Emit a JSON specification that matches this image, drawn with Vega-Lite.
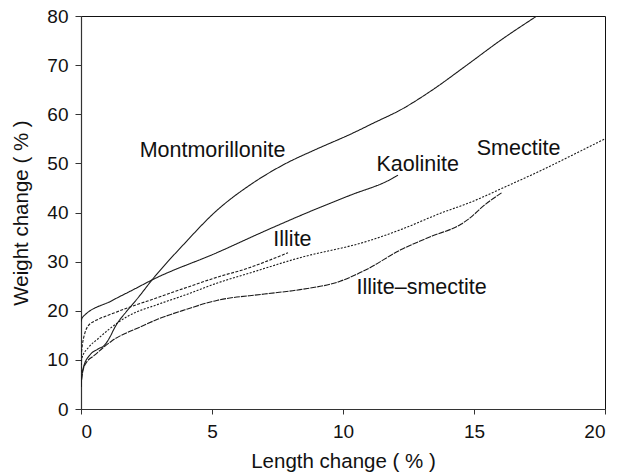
{
  "$schema": "https://vega.github.io/schema/vega-lite/v6.json",
  "width": 524,
  "height": 393,
  "autosize": "none",
  "padding": {"left": 81, "top": 16, "right": 13, "bottom": 65},
  "background": "white",
  "config": {
    "view": {"stroke": "#111", "strokeWidth": 1},
    "font": "Liberation Sans",
    "axis": {
      "grid": false,
      "domainColor": "#333",
      "domainWidth": 1.2,
      "tickColor": "#333",
      "tickSize": 6,
      "labelFont": "Liberation Sans",
      "labelFontSize": 19,
      "labelColor": "#111",
      "titleFont": "Liberation Sans",
      "titleFontSize": 20.5,
      "titleFontWeight": "normal",
      "titleColor": "#111"
    }
  },
  "datasets": {
    "curves": [
      {"m": "Montmorillonite", "x": 0, "y": 4.5},
      {"m": "Montmorillonite", "x": 0.02, "y": 6},
      {"m": "Montmorillonite", "x": 0.1, "y": 8.6},
      {"m": "Montmorillonite", "x": 0.34, "y": 11},
      {"m": "Montmorillonite", "x": 0.65, "y": 12.2},
      {"m": "Montmorillonite", "x": 0.9, "y": 13},
      {"m": "Montmorillonite", "x": 1.1, "y": 14.6},
      {"m": "Montmorillonite", "x": 1.28, "y": 16.5},
      {"m": "Montmorillonite", "x": 1.79, "y": 20.2},
      {"m": "Montmorillonite", "x": 2.11, "y": 22.2},
      {"m": "Montmorillonite", "x": 2.76, "y": 26.6},
      {"m": "Montmorillonite", "x": 3.9, "y": 33.4},
      {"m": "Montmorillonite", "x": 5.18, "y": 40.4},
      {"m": "Montmorillonite", "x": 6.45, "y": 45.6},
      {"m": "Montmorillonite", "x": 7.72, "y": 49.7},
      {"m": "Montmorillonite", "x": 8.99, "y": 52.9},
      {"m": "Montmorillonite", "x": 10.27, "y": 55.9},
      {"m": "Montmorillonite", "x": 11.2, "y": 58.3},
      {"m": "Montmorillonite", "x": 12.2, "y": 60.9},
      {"m": "Montmorillonite", "x": 13.4, "y": 64.9},
      {"m": "Montmorillonite", "x": 14.7, "y": 69.9},
      {"m": "Montmorillonite", "x": 16.0, "y": 75.0},
      {"m": "Montmorillonite", "x": 17.4, "y": 80},
      {"m": "Kaolinite", "x": 0, "y": 17.8},
      {"m": "Kaolinite", "x": 0.05, "y": 18.6},
      {"m": "Kaolinite", "x": 1.16, "y": 22.0},
      {"m": "Kaolinite", "x": 2.0, "y": 24.3},
      {"m": "Kaolinite", "x": 2.76, "y": 26.4},
      {"m": "Kaolinite", "x": 5.18, "y": 31.8},
      {"m": "Kaolinite", "x": 7.09, "y": 36.4},
      {"m": "Kaolinite", "x": 8.74, "y": 40.2},
      {"m": "Kaolinite", "x": 10.27, "y": 43.5},
      {"m": "Kaolinite", "x": 11.8, "y": 46.7},
      {"m": "Kaolinite", "x": 12.1, "y": 47.6},
      {"m": "Illite", "x": 0, "y": 10.7},
      {"m": "Illite", "x": 0.05, "y": 13},
      {"m": "Illite", "x": 0.15, "y": 15.5},
      {"m": "Illite", "x": 0.27, "y": 16.9},
      {"m": "Illite", "x": 0.6, "y": 18.1},
      {"m": "Illite", "x": 1.0, "y": 19.0},
      {"m": "Illite", "x": 1.79, "y": 20.6},
      {"m": "Illite", "x": 2.94, "y": 22.7},
      {"m": "Illite", "x": 3.9, "y": 24.5},
      {"m": "Illite", "x": 5.18, "y": 26.8},
      {"m": "Illite", "x": 6.45, "y": 28.8},
      {"m": "Illite", "x": 7.1, "y": 30.1},
      {"m": "Illite", "x": 7.9, "y": 31.8},
      {"m": "Smectite", "x": 0, "y": 7.5},
      {"m": "Smectite", "x": 0.03, "y": 10.3},
      {"m": "Smectite", "x": 0.3, "y": 12.6},
      {"m": "Smectite", "x": 0.65, "y": 14.3},
      {"m": "Smectite", "x": 1.04, "y": 16.1},
      {"m": "Smectite", "x": 1.79, "y": 18.9},
      {"m": "Smectite", "x": 2.94, "y": 21.3},
      {"m": "Smectite", "x": 3.97, "y": 23.2},
      {"m": "Smectite", "x": 5.18, "y": 25.6},
      {"m": "Smectite", "x": 6.45, "y": 27.7},
      {"m": "Smectite", "x": 8.36, "y": 30.8},
      {"m": "Smectite", "x": 10.9, "y": 34.1},
      {"m": "Smectite", "x": 12.2, "y": 36.5},
      {"m": "Smectite", "x": 13.7, "y": 39.8},
      {"m": "Smectite", "x": 14.97, "y": 42.3},
      {"m": "Smectite", "x": 16.1, "y": 45},
      {"m": "Smectite", "x": 17.5, "y": 48.4},
      {"m": "Smectite", "x": 18.8, "y": 51.8},
      {"m": "Smectite", "x": 20, "y": 55},
      {"m": "Illite-smectite", "x": 0, "y": 4.5},
      {"m": "Illite-smectite", "x": 0.02, "y": 5.9},
      {"m": "Illite-smectite", "x": 0.15, "y": 9.0},
      {"m": "Illite-smectite", "x": 0.53, "y": 11.0},
      {"m": "Illite-smectite", "x": 1.16, "y": 13.8},
      {"m": "Illite-smectite", "x": 2.3, "y": 16.8},
      {"m": "Illite-smectite", "x": 2.94, "y": 18.3},
      {"m": "Illite-smectite", "x": 3.97, "y": 20.2},
      {"m": "Illite-smectite", "x": 5.18, "y": 22.1},
      {"m": "Illite-smectite", "x": 7.0, "y": 23.4},
      {"m": "Illite-smectite", "x": 8.36, "y": 24.3},
      {"m": "Illite-smectite", "x": 9.89, "y": 26},
      {"m": "Illite-smectite", "x": 10.9, "y": 28.4},
      {"m": "Illite-smectite", "x": 12.2, "y": 32.4},
      {"m": "Illite-smectite", "x": 13.4, "y": 35.2},
      {"m": "Illite-smectite", "x": 14.5, "y": 37.6},
      {"m": "Illite-smectite", "x": 14.85, "y": 38.9},
      {"m": "Illite-smectite", "x": 15.35, "y": 41.3},
      {"m": "Illite-smectite", "x": 16.05, "y": 44}
    ],
    "labels": [
      {"t": "Montmorillonite", "x": 5.02, "y": 52.6},
      {"t": "Kaolinite", "x": 12.85, "y": 49.6},
      {"t": "Smectite", "x": 16.7, "y": 52.9},
      {"t": "Illite", "x": 8.07, "y": 34.4},
      {"t": "Illite–smectite", "x": 13.0, "y": 24.6}
    ]
  },
  "layer": [
    {
      "data": {"name": "curves"},
      "mark": {"type": "line", "interpolate": "monotone", "strokeWidth": 1.1, "color": "#1a1a1a", "clip": true},
      "encoding": {
        "x": {
          "field": "x", "type": "quantitative",
          "scale": {"domain": [0, 20], "nice": false, "zero": false},
          "axis": {"values": [0, 5, 10, 15, 20], "title": "Length change ( % )", "labelPadding": 8, "titlePadding": 10, "tickSize": 5}
        },
        "y": {
          "field": "y", "type": "quantitative",
          "scale": {"domain": [0, 80], "nice": false},
          "axis": {"values": [0, 10, 20, 30, 40, 50, 60, 70, 80], "title": "Weight change ( % )", "labelPadding": 7, "titlePadding": 15}
        },
        "detail": {"field": "m"},
        "strokeDash": {
          "field": "m", "type": "nominal",
          "scale": {"domain": ["Montmorillonite", "Kaolinite", "Illite", "Smectite", "Illite-smectite"],
                    "range": [[1, 0], [1, 0], [3, 1.5], [2, 1.5], [6, 1]]},
          "legend": null
        },
        "order": {"field": "x", "type": "quantitative"}
      }
    },
    {
      "data": {"name": "labels"},
      "mark": {"type": "text", "fontSize": 21.5, "font": "Liberation Sans", "color": "#111", "align": "center", "baseline": "middle"},
      "encoding": {
        "x": {"field": "x", "type": "quantitative"},
        "y": {"field": "y", "type": "quantitative"},
        "text": {"field": "t"}
      }
    }
  ]
}
